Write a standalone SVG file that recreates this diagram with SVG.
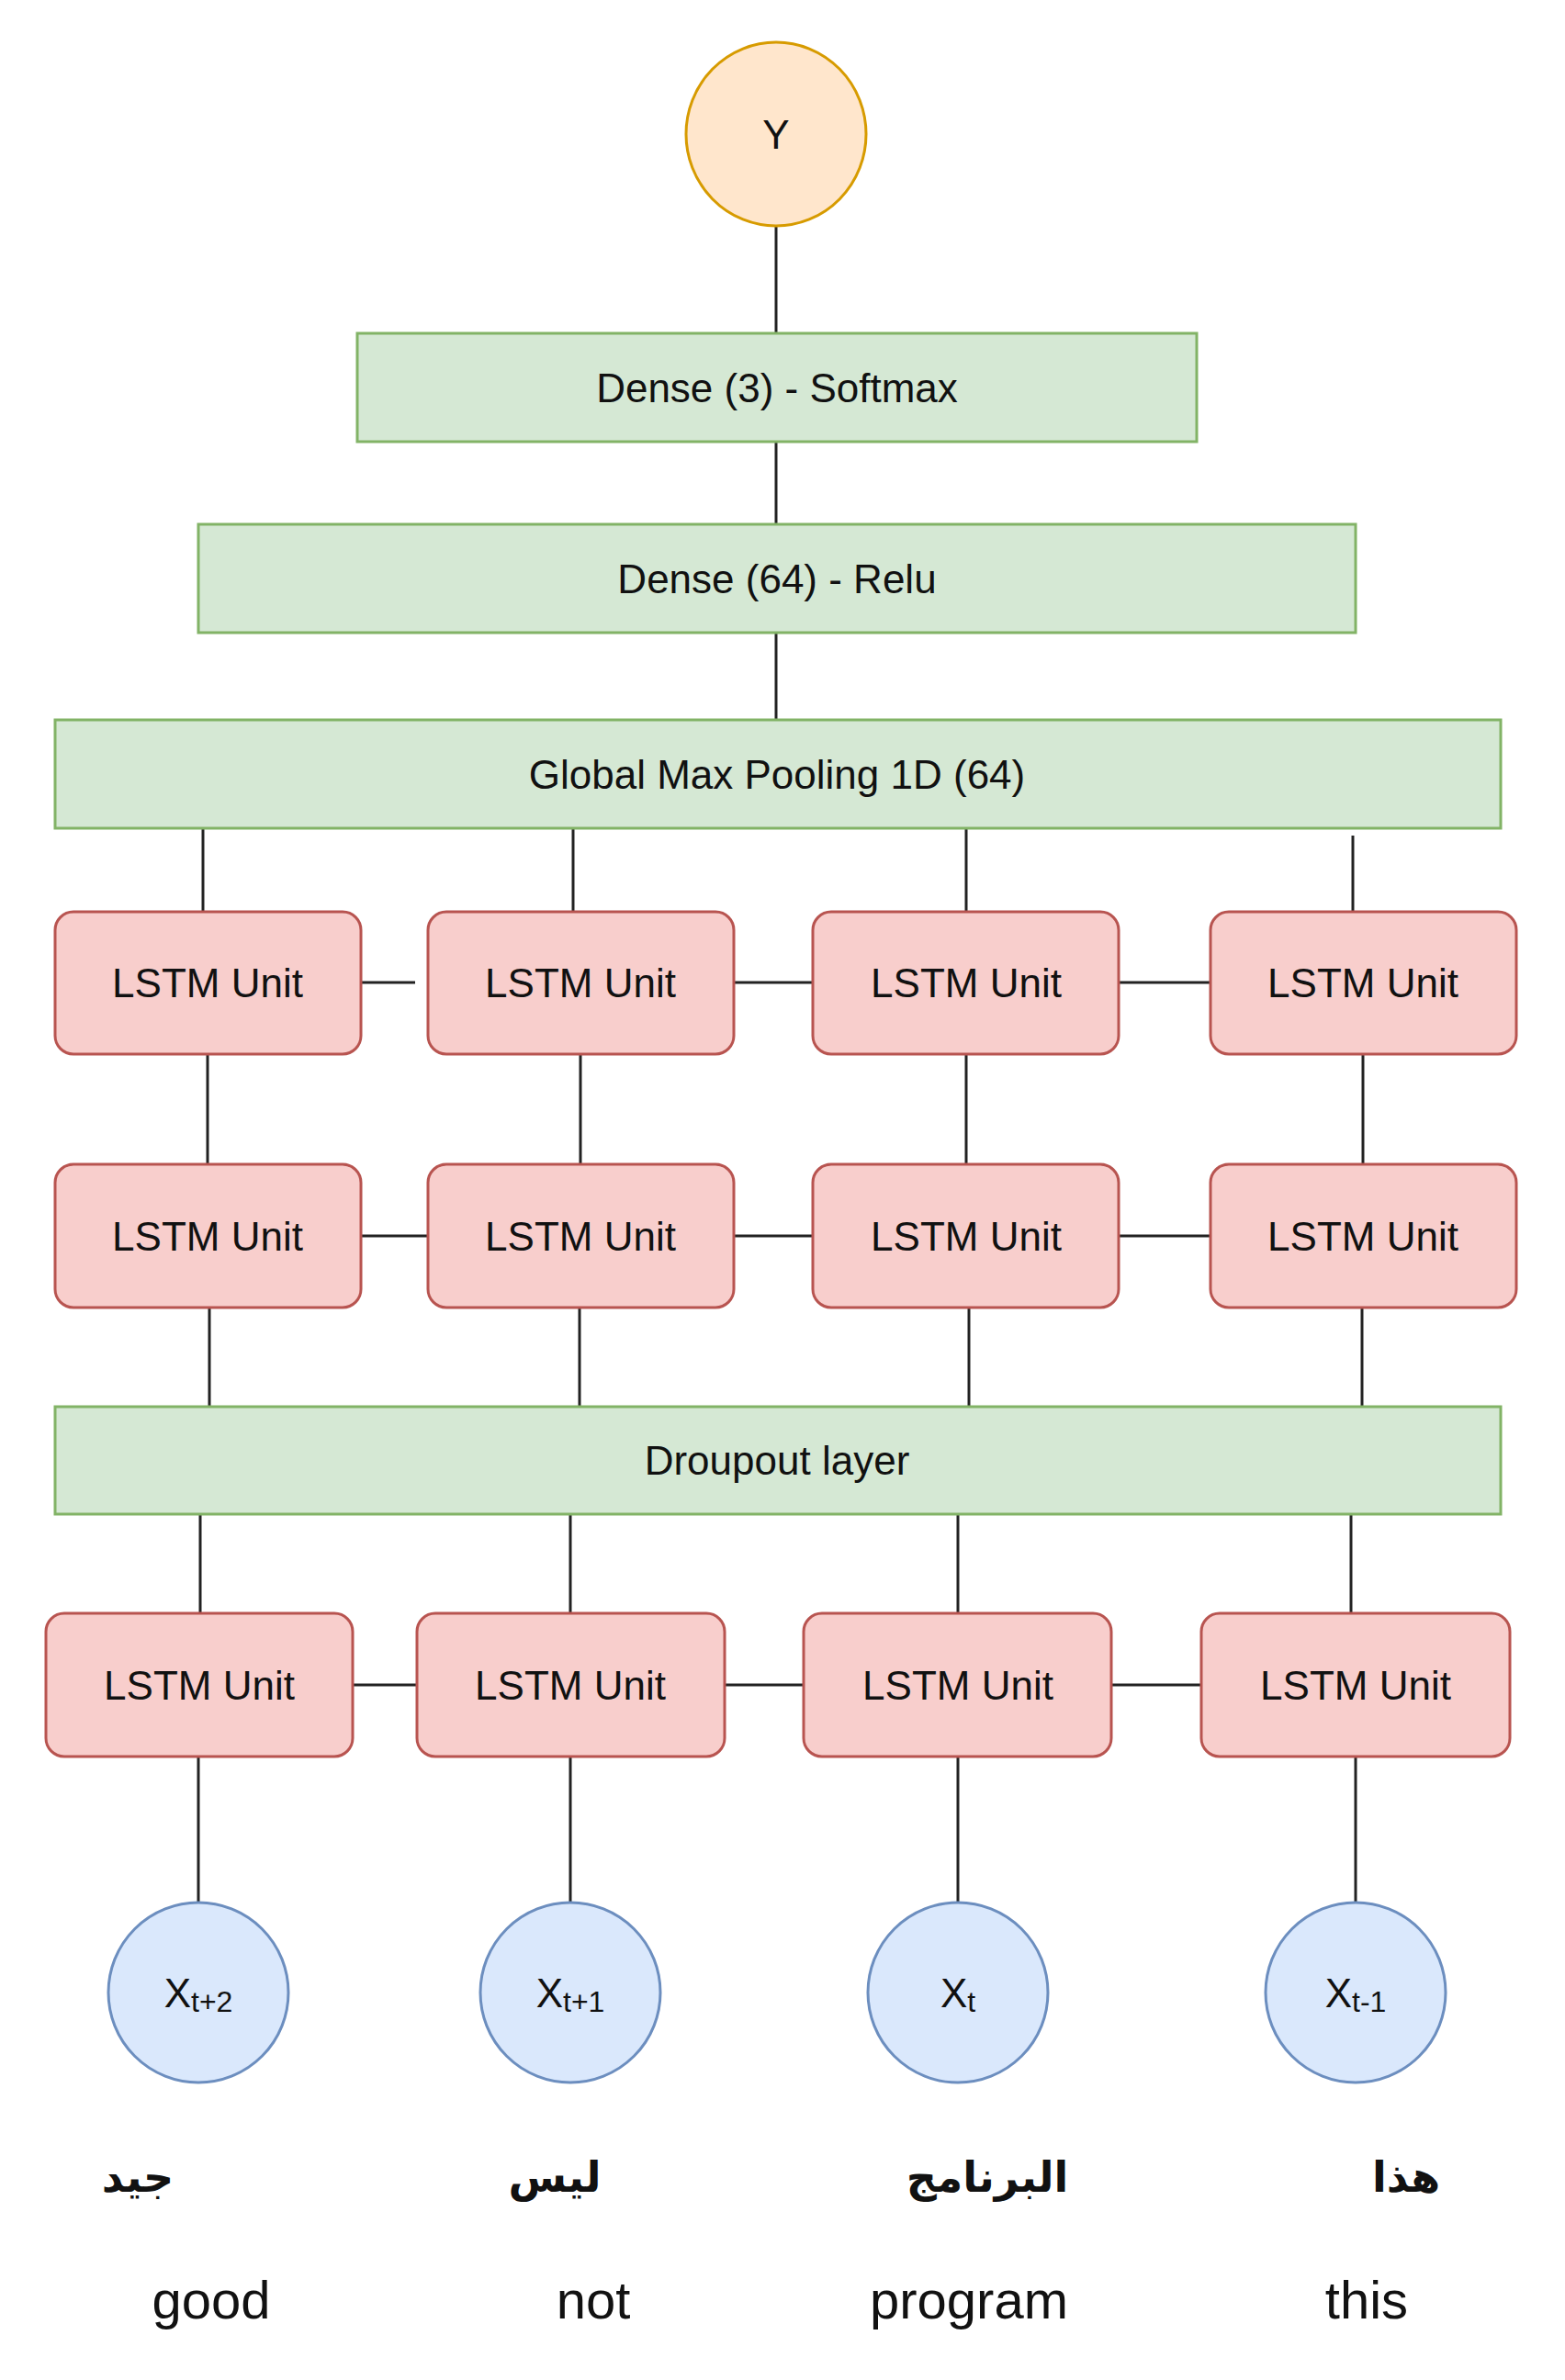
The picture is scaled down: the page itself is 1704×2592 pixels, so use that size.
<svg xmlns="http://www.w3.org/2000/svg" width="1704" height="2592" viewBox="0 0 1704 2592">
<style>
.g{fill:#d5e8d4;stroke:#82b366;stroke-width:3}
.r{fill:#f8cecc;stroke:#b85450;stroke-width:3}
.b{fill:#dae8fc;stroke:#6c8ebf;stroke-width:3}
.o{fill:#ffe6cc;stroke:#d79b00;stroke-width:3}
text{font-family:"Liberation Sans",Arial,sans-serif;font-size:44px;fill:#111;text-anchor:middle;dominant-baseline:central}
.ar{font-family:"DejaVu Sans","Noto Sans",sans-serif;font-weight:bold;font-size:46px}
.en{font-size:58px}
#edges line{stroke:#222;stroke-width:3}
</style>
<rect width="1704" height="2592" fill="#fff"/>
<g id="edges">
<line x1="845" y1="246" x2="845" y2="363"/>
<line x1="845" y1="481" x2="845" y2="571"/>
<line x1="845" y1="689" x2="845" y2="784"/>
<line x1="221" y1="902" x2="221" y2="993"/><line x1="624" y1="902" x2="624" y2="993"/><line x1="1052" y1="902" x2="1052" y2="993"/><line x1="1473" y1="910" x2="1473" y2="993"/>
<line x1="393" y1="1070" x2="452" y2="1070"/><line x1="799" y1="1070" x2="885" y2="1070"/><line x1="1218" y1="1070" x2="1318" y2="1070"/>
<line x1="226" y1="1148" x2="226" y2="1268"/><line x1="632" y1="1148" x2="632" y2="1268"/><line x1="1052" y1="1148" x2="1052" y2="1268"/><line x1="1484" y1="1148" x2="1484" y2="1268"/>
<line x1="393" y1="1346" x2="466" y2="1346"/><line x1="799" y1="1346" x2="885" y2="1346"/><line x1="1218" y1="1346" x2="1318" y2="1346"/>
<line x1="228" y1="1424" x2="228" y2="1532"/><line x1="631" y1="1424" x2="631" y2="1532"/><line x1="1055" y1="1424" x2="1055" y2="1532"/><line x1="1483" y1="1424" x2="1483" y2="1532"/>
<line x1="218" y1="1649" x2="218" y2="1757"/><line x1="621" y1="1649" x2="621" y2="1757"/><line x1="1043" y1="1649" x2="1043" y2="1757"/><line x1="1471" y1="1649" x2="1471" y2="1757"/>
<line x1="384" y1="1835" x2="454" y2="1835"/><line x1="789" y1="1835" x2="875" y2="1835"/><line x1="1210" y1="1835" x2="1308" y2="1835"/>
<line x1="216" y1="1913" x2="216" y2="2072"/><line x1="621" y1="1913" x2="621" y2="2072"/><line x1="1043" y1="1913" x2="1043" y2="2072"/><line x1="1476" y1="1913" x2="1476" y2="2072"/>
</g>
<g id="Y"><ellipse class="o" cx="845" cy="146" rx="98" ry="100"/><text x="845" y="146">Y</text></g>
<g id="dense3"><rect class="g" x="389" y="363" width="914" height="118"/><text x="846" y="422">Dense (3) - Softmax</text></g>
<g id="dense64"><rect class="g" x="216" y="571" width="1260" height="118"/><text x="846" y="630">Dense (64) - Relu</text></g>
<g id="gmp"><rect class="g" x="60" y="784" width="1574" height="118"/><text x="846" y="843">Global Max Pooling 1D (64)</text></g>
<g id="l1a"><rect class="r" x="60" y="993" width="333" height="155" rx="20"/><text x="226" y="1070">LSTM Unit</text></g>
<g id="l1b"><rect class="r" x="466" y="993" width="333" height="155" rx="20"/><text x="632" y="1070">LSTM Unit</text></g>
<g id="l1c"><rect class="r" x="885" y="993" width="333" height="155" rx="20"/><text x="1052" y="1070">LSTM Unit</text></g>
<g id="l1d"><rect class="r" x="1318" y="993" width="333" height="155" rx="20"/><text x="1484" y="1070">LSTM Unit</text></g>
<g id="l2a"><rect class="r" x="60" y="1268" width="333" height="156" rx="20"/><text x="226" y="1346">LSTM Unit</text></g>
<g id="l2b"><rect class="r" x="466" y="1268" width="333" height="156" rx="20"/><text x="632" y="1346">LSTM Unit</text></g>
<g id="l2c"><rect class="r" x="885" y="1268" width="333" height="156" rx="20"/><text x="1052" y="1346">LSTM Unit</text></g>
<g id="l2d"><rect class="r" x="1318" y="1268" width="333" height="156" rx="20"/><text x="1484" y="1346">LSTM Unit</text></g>
<g id="dropout"><rect class="g" x="60" y="1532" width="1574" height="117"/><text x="846" y="1590">Droupout layer</text></g>
<g id="l3a"><rect class="r" x="50" y="1757" width="334" height="156" rx="20"/><text x="217" y="1835">LSTM Unit</text></g>
<g id="l3b"><rect class="r" x="454" y="1757" width="335" height="156" rx="20"/><text x="621" y="1835">LSTM Unit</text></g>
<g id="l3c"><rect class="r" x="875" y="1757" width="335" height="156" rx="20"/><text x="1043" y="1835">LSTM Unit</text></g>
<g id="l3d"><rect class="r" x="1308" y="1757" width="336" height="156" rx="20"/><text x="1476" y="1835">LSTM Unit</text></g>
<g id="x1"><circle class="b" cx="216" cy="2170" r="98"/><text x="216" y="2170">X<tspan font-size="32" dy="10">t+2</tspan></text></g>
<g id="x2"><circle class="b" cx="621" cy="2170" r="98"/><text x="621" y="2170">X<tspan font-size="32" dy="10">t+1</tspan></text></g>
<g id="x3"><circle class="b" cx="1043" cy="2170" r="98"/><text x="1043" y="2170">X<tspan font-size="32" dy="10">t</tspan></text></g>
<g id="x4"><circle class="b" cx="1476" cy="2170" r="98"/><text x="1476" y="2170">X<tspan font-size="32" dy="10">t-1</tspan></text></g>
<g id="words">
<text class="ar" x="150" y="2371">جيد</text>
<text class="ar" x="604" y="2371">ليس</text>
<text class="ar" x="1075" y="2371">البرنامج</text>
<text class="ar" x="1531" y="2371">هذا</text>
<text class="en" x="230" y="2504">good</text>
<text class="en" x="646" y="2504">not</text>
<text class="en" x="1055" y="2504">program</text>
<text class="en" x="1488" y="2504">this</text>
</g>
</svg>
